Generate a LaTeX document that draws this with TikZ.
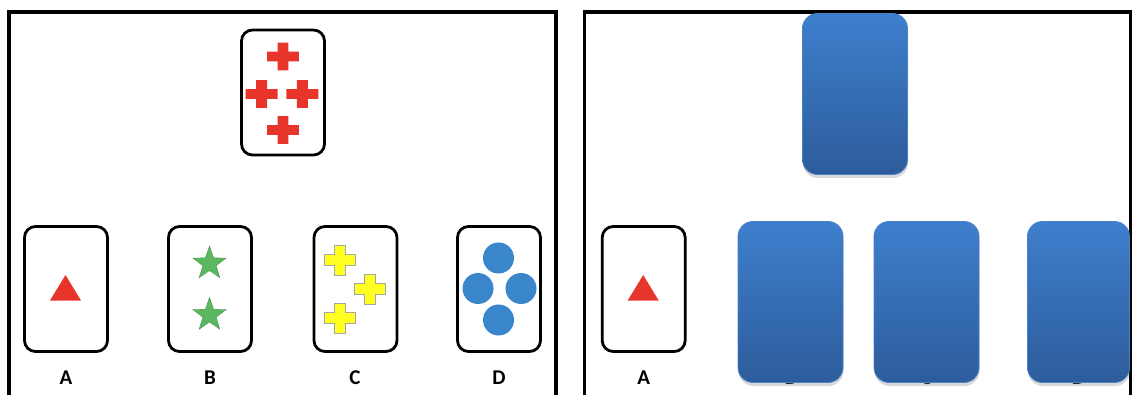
\documentclass[tikz,border=0pt]{standalone}
\usepackage{fontspec}
\setmainfont{Carlito}
\usetikzlibrary{shapes.geometric,shadows}

\definecolor{cardRed}{HTML}{E8352B}
\definecolor{cardGreen}{HTML}{5CB860}
\definecolor{cardYellow}{HTML}{FFFF22}
\definecolor{cardBlue}{HTML}{3A86CA}
\definecolor{backTop}{HTML}{3E7FCD}
\definecolor{backBottom}{HTML}{2D5C9B}
\definecolor{backEdge}{HTML}{4A80C6}

\begin{document}
\begin{tikzpicture}[x=1pt,y=-1pt,font=\fontsize{21}{23}\selectfont\bfseries,
  card/.style={draw,line width=2.8pt,rounded corners=11pt,minimum width=83pt,minimum height=125pt,inner sep=0pt},
  backcard/.style={draw=backEdge,line width=0.8pt,rounded corners=15pt,minimum width=105pt,minimum height=161pt,
    top color=backTop,bottom color=backBottom,
    drop shadow={shadow xshift=0.5pt,shadow yshift=-3.5pt,opacity=0.3,fill=black!50}},
  dot/.style={circle,fill=cardBlue,minimum size=31pt,inner sep=0pt},
  starmark/.style={star,star points=5,star point ratio=2.5,fill=cardGreen,draw=cardGreen!80!black,line width=0.4pt,minimum size=35pt,inner sep=0pt},
  plus/.pic={\path[pic actions] (-5.3,-15) -- (5.3,-15) -- (5.3,-5.3) -- (15.5,-5.3) -- (15.5,5.3) -- (5.3,5.3) -- (5.3,15) -- (-5.3,15) -- (-5.3,5.3) -- (-15.5,5.3) -- (-15.5,-5.3) -- (-5.3,-5.3) -- cycle;}]
  \useasboundingbox (0,0) rectangle (1132,395);
  % panel frames
  \draw[line width=3.5pt] (9,395) -- (9,12) -- (556,12) -- (556,395);
  \draw[line width=3.5pt] (584.7,395) -- (584.7,12) -- (1130.5,12) -- (1130.5,395);
  % left panel: target card
  \node[card] (target) at (283,92.5) {};
  \pic[fill=cardRed,xscale=1.03,yscale=0.92] at (283,56.5) {plus};
  \pic[fill=cardRed,xscale=1.03,yscale=0.92] at (261.7,94) {plus};
  \pic[fill=cardRed,xscale=1.03,yscale=0.92] at (302.3,94) {plus};
  \pic[fill=cardRed,xscale=1.03,yscale=0.92] at (283,130) {plus};
  % left panel: choice cards
  \node[card] (cardA) at (66,289) {};
  \fill[cardRed] (65.5,275) -- (81,300.5) -- (50,300.5) -- cycle;
  \node at (66,378) (labA) {A};
  \node[card] (cardB) at (210,289) {};
  \node[starmark] (starB1) at (209.5,263.5) {};
  \node[starmark] (starB2) at (209.5,315) {};
  \node at (210,378) (labB) {B};
  \node[card] (cardC) at (355.5,289) {};
  \pic[fill=cardYellow,draw=black!35,line width=0.6pt] at (339.5,260) {plus};
  \pic[fill=cardYellow,draw=black!35,line width=0.6pt] at (369.5,289) {plus};
  \pic[fill=cardYellow,draw=black!35,line width=0.6pt] at (339.5,318) {plus};
  \node at (355,378) (labC) {C};
  \node[card] (cardD) at (499,289) {};
  \node[dot] (dotTop) at (498.5,258) {};
  \node[dot] (dotLeft) at (478,288.5) {};
  \node[dot] (dotRight) at (521,288.5) {};
  \node[dot] (dotBottom) at (498.5,320) {};
  \node at (499,378) (labD) {D};
  % right panel
  \node[card] (rcardA) at (643.7,289) {};
  \fill[cardRed] (643.2,275) -- (658.7,300.5) -- (627.7,300.5) -- cycle;
  \node at (643.7,378) (rlabA) {A};
  \node at (790.5,378) (rlabB) {B};
  \node at (926.5,378) (rlabC) {C};
  \node at (1078.5,378) (rlabD) {D};
  \node[backcard] (backTarget) at (855,94) {};
  \node[backcard] (backB) at (790.5,302) {};
  \node[backcard] (backC) at (926.5,302) {};
  \node[backcard,minimum width=102pt] (backD) at (1078.5,302) {};
\end{tikzpicture}
\end{document}
